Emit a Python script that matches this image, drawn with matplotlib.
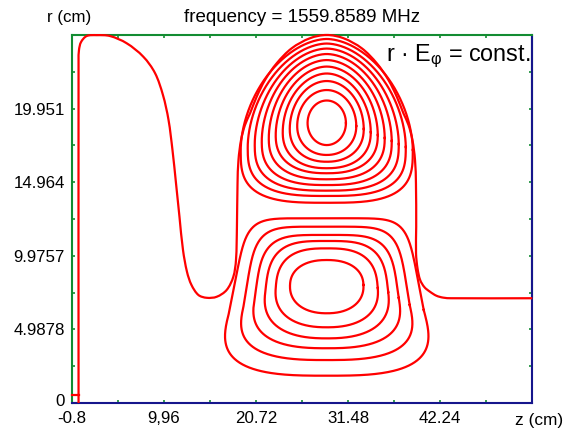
import numpy as np
import matplotlib
matplotlib.use("Agg")
import matplotlib.pyplot as plt
import matplotlib.transforms as mtransforms
from matplotlib.path import Path
from matplotlib.patches import PathPatch

plt.rcParams['font.family'] = ['Liberation Sans', 'DejaVu Sans']
plt.rcParams['mathtext.fontset'] = 'custom'
plt.rcParams['mathtext.rm'] = 'Liberation Sans'

# cavity wall contour (z, r in cm)
wall_z = [0.0, 0.0, 0.05, 0.29, 0.95, 2.12, 3.67, 5.62, 7.56, 8.93, 9.86, 10.51,
          10.97, 11.38, 11.79, 12.20, 12.67, 13.19, 14.0, 14.97, 16.14, 17.30,
          18.08, 18.39, 18.50, 18.57, 18.68, 18.98, 19.44, 20.03, 20.81, 21.78,
          23.14, 24.90, 27.03, 28.99, 30.95, 33.08, 34.84, 36.20, 37.17, 37.95,
          38.54, 39.00, 39.30, 39.41, 39.44, 39.42, 39.6, 39.9, 40.4, 41.05,
          41.8, 42.6, 43.5, 53.0]
wall_r = [0.0, 23.24, 23.92, 24.46, 24.87, 24.93, 24.87, 24.38, 23.47, 22.36,
          20.87, 19.18, 17.15, 14.91, 12.61, 10.37, 8.88, 8.00, 7.32, 7.13,
          7.20, 7.66, 8.56, 9.69, 11.95, 14.89, 16.47, 17.82, 18.84, 19.63,
          20.76, 21.89, 23.02, 24.04, 24.72, 24.94, 24.72, 24.04, 23.02, 21.89,
          20.76, 19.63, 18.84, 17.82, 16.47, 14.89, 11.95, 10.14, 9.1, 8.34,
          7.85, 7.54, 7.27, 7.14, 7.10, 7.10]
stub_z = [-0.8, 0.0]
stub_r = [0.54, 0.54]

cell_z = 28.99

# upper field lines, outer -> inner
up_half = [10.05, 9.23, 8.41, 7.59, 6.77, 5.96, 5.14, 4.32, 3.45, 2.24]
up_top = [24.67, 24.36, 24.02, 23.65, 23.24, 22.80, 22.33, 21.82, 21.21, 20.50]
up_mid = [17.15, 17.35, 17.55, 17.76, 17.96, 18.16, 18.36, 18.57, 18.77, 18.97]
up_bot = [13.57, 14.03, 14.39, 14.77, 15.16, 15.57, 15.91, 16.35, 16.81, 17.48]
up_p_top = [1.8, 1.82, 1.84, 1.86, 1.88, 1.9, 1.92, 1.95, 1.98, 2.0]
up_p_bot = [3.2, 3.0, 2.8, 2.65, 2.5, 2.4, 2.3, 2.2, 2.1, 2.0]

# lower field lines, outer -> inner
low_half = [11.33, 9.69, 8.41, 7.18, 5.96, 4.29]
low_top = [12.52, 11.95, 11.39, 10.98, 10.48, 9.69]
low_mid = [6.30, 6.64, 7.12, 7.52, 7.79, 8.00]
low_bot = [1.85, 2.91, 3.71, 4.38, 5.13, 6.08]
low_p_top = [7.0, 5.5, 4.3, 3.4, 2.8, 2.3]
low_p_bot = [3.0, 2.8, 2.6, 2.4, 2.3, 2.2]
low_taper = [0.18, 0.15, 0.12, 0.09, 0.06, 0.03]

x_ticks = [-0.8, 9.96, 20.72, 31.48, 42.24, 53.0]
x_labels = ['-0.8', '9,96', '20.72', '31.48', '42.24', '']
y_ticks = [0, 4.9878, 9.9757, 14.964, 19.951, 24.939]
y_labels = ['0', '4.9878', '9.9757', '14.964', '19.951', '']

RED = '#ff0000'
GREEN = '#138c32'
BLUE = '#16168c'


def loop(zc, half, top, mid, bot, p_top, p_bot, taper=0.0, n=600):
    t = np.linspace(0, 2 * np.pi, n)
    c, s = np.cos(t), np.sin(t)
    upper = s >= 0
    p = np.where(upper, p_top, p_bot)
    u = np.sign(c) * np.abs(c) ** (2 / p)
    v = np.sign(s) * np.abs(s) ** (2 / p)
    z = zc + half * u * (1 - taper * v)
    r = np.where(upper, mid + (top - mid) * v, mid + (mid - bot) * v)
    return z, r


def smooth_path(zs, rs, aspect=1.72):
    # cubic curve through the measured wall points
    P = np.column_stack([zs, rs]).astype(float)
    S = P * [1.0, aspect]
    d = np.r_[0, np.cumsum(np.hypot(*np.diff(S, axis=0).T))]
    n = len(P)
    M = np.zeros_like(P)
    M[0] = (P[1] - P[0]) / (d[1] - d[0])
    M[-1] = (P[-1] - P[-2]) / (d[-1] - d[-2])
    for i in range(1, n - 1):
        M[i] = (P[i + 1] - P[i - 1]) / (d[i + 1] - d[i - 1])
    verts, codes = [P[0]], [Path.MOVETO]
    for i in range(n - 1):
        h = d[i + 1] - d[i]
        verts += [P[i] + M[i] * h / 3, P[i + 1] - M[i + 1] * h / 3, P[i + 1]]
        codes += [Path.CURVE4] * 3
    return Path(verts, codes)


fig = plt.figure(figsize=(5.72, 4.33), dpi=100)
ax = fig.add_axes([0.12535, 0.06928, 0.80524, 0.84988])
ax.set_xlim(x_ticks[0], x_ticks[-1])
ax.set_ylim(y_ticks[0], y_ticks[-1])

lw = 1.6
ax.add_patch(PathPatch(smooth_path(wall_z, wall_r), fill=False, edgecolor=RED,
                       lw=lw, clip_on=False, zorder=3))
ax.plot(stub_z, stub_r, color=RED, lw=lw, clip_on=False, zorder=3)

for i in range(len(up_half)):
    z, r = loop(cell_z, up_half[i], up_top[i], up_mid[i], up_bot[i],
                up_p_top[i], up_p_bot[i])
    ax.plot(z, r, color=RED, lw=lw, zorder=3)

for i in range(len(low_half)):
    z, r = loop(cell_z, low_half[i], low_top[i], low_mid[i], low_bot[i],
                low_p_top[i], low_p_bot[i], low_taper[i])
    ax.plot(z, r, color=RED, lw=lw, zorder=3)

# frame: green outer boundary, blue on axis and beam pipe end
for side in ['top', 'left']:
    ax.spines[side].set_color(GREEN)
for side in ['bottom', 'right']:
    ax.spines[side].set_color(BLUE)
for sp in ax.spines.values():
    sp.set_linewidth(1.5)
ax.plot([x_ticks[0], wall_z[0]], [0, 0], color=GREEN, lw=1.5,
        clip_on=False, zorder=2.5, solid_capstyle='butt')
ax.plot([x_ticks[-1], x_ticks[-1]], [wall_r[-1], y_ticks[-1]], color=GREEN,
        lw=1.5, clip_on=False, zorder=2.5, solid_capstyle='butt')

ax.set_xticks(x_ticks)
ax.set_xticklabels(x_labels)
ax.set_yticks(y_ticks)
ax.set_yticklabels(y_labels)
ax.set_xticks([(a + b) / 2 for a, b in zip(x_ticks[:-1], x_ticks[1:])], minor=True)
ax.set_yticks([(a + b) / 2 for a, b in zip(y_ticks[:-1], y_ticks[1:])], minor=True)
ax.tick_params(which='both', direction='in', length=2.5, width=1.2,
               color=GREEN, top=True, right=True, labelsize=12.2, pad=5)
ax.tick_params(axis='x', pad=6)
zero = ax.get_yticklabels()[0]
zero.set_transform(zero.get_transform() +
                   mtransforms.ScaledTranslation(0, 3 / 100, fig.dpi_scale_trans))

fig.text(0.528, 0.96, 'frequency = 1559.8589 MHz', ha='center', va='center',
         fontsize=13.5)
fig.text(0.120, 0.96, 'r (cm)', ha='center', va='center', fontsize=12.2)
fig.text(0.942, 0.028, 'z (cm)', ha='center', va='center', fontsize=12.4)
fig.text(0.927, 0.859, r'r · E$_{\mathrm{φ}}$ = const.', ha='right',
         va='baseline', fontsize=16.8)

fig.savefig('out.png', dpi=100)
